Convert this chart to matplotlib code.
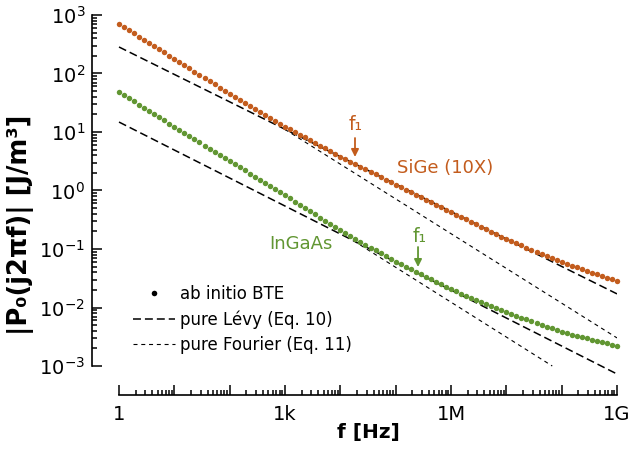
import numpy as np
import matplotlib
matplotlib.use('Agg')
import matplotlib.pyplot as plt
from matplotlib.lines import Line2D
from matplotlib.ticker import FixedLocator, FuncFormatter, NullFormatter

# ---------------- data ----------------
freq = np.logspace(0, 9, 100)  # Hz, 100 log-spaced BTE points

# log10 of |P0| for SiGe (already x10)
sige_log = [
    2.846, 2.792, 2.738, 2.684, 2.630, 2.576, 2.521, 2.467, 2.413, 2.359, 2.305, 2.251,
    2.196, 2.142, 2.087, 2.033, 1.978, 1.924, 1.869, 1.815, 1.760, 1.706, 1.651,
    1.600, 1.549, 1.498, 1.447, 1.396, 1.346, 1.295, 1.244, 1.193, 1.142, 1.091,
    1.045, 0.998, 0.952, 0.906, 0.859, 0.813, 0.767, 0.720, 0.674, 0.627, 0.581,
    0.537, 0.494, 0.450, 0.406, 0.363, 0.319, 0.276, 0.232, 0.188, 0.145, 0.101,
    0.058, 0.015, -0.027, -0.070, -0.113, -0.155, -0.198, -0.241, -0.283, -0.326, -0.369,
    -0.411, -0.453, -0.494, -0.536, -0.578, -0.620, -0.662, -0.704, -0.745, -0.787, -0.829,
    -0.865, -0.902, -0.938, -0.975, -1.011, -1.047, -1.084, -1.120, -1.156, -1.193, -1.229,
    -1.258, -1.287, -1.316, -1.345, -1.374, -1.403, -1.433, -1.462, -1.491, -1.520, -1.549,
]

# log10 of |P0| for InGaAs
ingaas_log = [
    1.684, 1.630, 1.576, 1.522, 1.468, 1.414, 1.360, 1.306, 1.252, 1.198, 1.144, 1.090,
    1.036, 0.983, 0.929, 0.875, 0.822, 0.768, 0.715, 0.661, 0.607, 0.554, 0.500,
    0.447, 0.395, 0.342, 0.289, 0.236, 0.184, 0.131, 0.078, 0.025, -0.027, -0.080,
    -0.135, -0.189, -0.244, -0.298, -0.353, -0.407, -0.462, -0.516, -0.571, -0.625, -0.680,
    -0.729, -0.778, -0.827, -0.876, -0.925, -0.975, -1.024, -1.073, -1.122, -1.171, -1.220,
    -1.263, -1.305, -1.348, -1.391, -1.434, -1.476, -1.519, -1.562, -1.605, -1.647, -1.690,
    -1.725, -1.761, -1.796, -1.832, -1.867, -1.903, -1.938, -1.974, -2.009, -2.045, -2.080,
    -2.111, -2.142, -2.173, -2.204, -2.235, -2.265, -2.296, -2.327, -2.358, -2.389, -2.420,
    -2.441, -2.463, -2.484, -2.505, -2.527, -2.548, -2.569, -2.591, -2.612, -2.633, -2.655,
]

# pure Levy (Eq. 10) lines
levy_sige_f = [1.0, 1e9]
levy_sige_y = [284.0, 0.0171]
levy_ingaas_f = [1.0, 1e9]
levy_ingaas_y = [14.8, 7.3e-4]

# pure Fourier (Eq. 11) lines
fourier_sige_f = [1e3, 1e9]
fourier_sige_y = [11.07, 0.00302]
fourier_ingaas_f = [1.74e4, 6.76e7]
fourier_ingaas_y = [0.138, 1.0e-3]

x_tick_labels = {0: '1', 3: '1k', 6: '1M', 9: '1G'}
y_decades = list(range(-3, 4))

# ---------------- style ----------------
ORANGE = '#c35c1d'
GREEN = '#619632'

fig = plt.figure(figsize=(6.32, 4.58), dpi=100)
ax = fig.add_axes([92/632, 1-395/458, (617-92)/632, (395-15)/458])
ax.set_xscale('log')
ax.set_yscale('log')
px_dec_x = (617-119)/9.0
px_dec_y = (366-15)/6.0
ax.set_xlim(10**(-27/px_dec_x), 1e9)
ax.set_ylim(10**(-3-29/px_dec_y), 1e3)

# lines
ax.plot(levy_sige_f, levy_sige_y, color='k', lw=1.1, dashes=(5.2, 2.6), zorder=2)
ax.plot(levy_ingaas_f, levy_ingaas_y, color='k', lw=1.1, dashes=(5.2, 2.6), zorder=2)
ax.plot(fourier_sige_f, fourier_sige_y, color='k', lw=0.8, dashes=(3.6, 3.4), zorder=2)
ax.plot(fourier_ingaas_f, fourier_ingaas_y, color='k', lw=0.8, dashes=(3.6, 3.4), zorder=2)

# BTE points
ax.plot(freq, 10**np.array(sige_log), 'o', ms=3.9, mew=0, color=ORANGE, clip_on=False, zorder=3)
ax.plot(freq, 10**np.array(ingaas_log), 'o', ms=3.9, mew=0, color=GREEN, clip_on=False, zorder=3)

# spines
for s in ['top', 'right']:
    ax.spines[s].set_visible(False)
ax.spines['left'].set_bounds(1e-3, 1e3)
ax.spines['bottom'].set_bounds(1, 1e9)
for s in ['left', 'bottom']:
    ax.spines[s].set_linewidth(1.2)

# ticks
ax.xaxis.set_major_locator(FixedLocator([10.0**k for k in range(0, 10)]))
ax.xaxis.set_minor_locator(FixedLocator([m*10.0**k for k in range(0, 9) for m in range(2, 10)]))
ax.xaxis.set_major_formatter(FuncFormatter(lambda v, p: x_tick_labels.get(int(round(np.log10(v))), '')))
ax.xaxis.set_minor_formatter(NullFormatter())
ax.yaxis.set_major_locator(FixedLocator([10.0**k for k in y_decades]))
ax.yaxis.set_minor_locator(FixedLocator([m*10.0**k for k in range(-3, 3) for m in range(2, 10)]))
ax.yaxis.set_major_formatter(FuncFormatter(lambda v, p: r'$\mathdefault{10^{%d}}$' % int(round(np.log10(v)))))
ax.yaxis.set_minor_formatter(NullFormatter())
ax.tick_params(which='both', direction='in', width=1.1, labelsize=14)
ax.tick_params(which='major', length=7)
ax.tick_params(which='minor', length=3.5)
ax.tick_params(axis='y', pad=5)
ax.tick_params(axis='x', pad=7)

# axis labels
ax.set_xlabel('f [Hz]', fontsize=14.5, fontweight='bold')
ax.xaxis.set_label_coords((368-92)/525, (395-423)/380)
ax.xaxis.label.set_va('top')
ax.set_ylabel('|P\u2080(j2\u03c0f)| [J/m\u00b3]', fontsize=18.5, fontweight='bold')
ax.yaxis.set_label_coords((34-92)/525, (395-225)/380)

# annotations
ax.text(10**4.28, 10**1.12, 'f\u2081', color=ORANGE, fontsize=13.5, ha='center', va='center')
ax.annotate('', xy=(10**4.265, 10**0.573), xytext=(10**4.265, 10**0.897),
            arrowprops=dict(arrowstyle='-|>', color=ORANGE, lw=1.3, mutation_scale=11,
                            shrinkA=0, shrinkB=0))
ax.text(10**5.892, 10**0.385, 'SiGe (10X)', color=ORANGE, fontsize=13, ha='center', va='center')

ax.text(10**5.43, 10**-0.778, 'f\u2081', color=GREEN, fontsize=13.5, ha='center', va='center')
ax.annotate('', xy=(10**5.404, 10**-1.308), xytext=(10**5.404, 10**-0.966),
            arrowprops=dict(arrowstyle='-|>', color=GREEN, lw=1.3, mutation_scale=11,
                            shrinkA=0, shrinkB=0))
ax.text(10**3.289, 10**-0.915, 'InGaAs', color=GREEN, fontsize=13, ha='center', va='center')

# legend
handles = [
    Line2D([], [], ls='none', marker='o', ms=4, mew=0, color='k'),
    Line2D([], [], color='k', lw=1.1, dashes=(5.2, 2.6)),
    Line2D([], [], color='k', lw=0.8, dashes=(3.6, 3.4)),
]
labels = ['ab initio BTE', 'pure L\u00e9vy (Eq. 10)', 'pure Fourier (Eq. 11)']
leg = ax.legend(handles, labels, loc='center left',
                bbox_to_anchor=((133-92)/525, (395-319.5)/380),
                frameon=False, fontsize=12, handlelength=2.5, handletextpad=0.3,
                labelspacing=0.45, borderpad=0, borderaxespad=0, numpoints=1)

fig.savefig('out.png', dpi=100)
